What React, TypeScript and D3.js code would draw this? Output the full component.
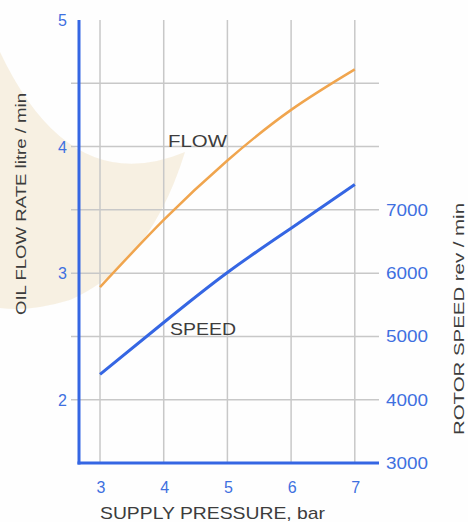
import React from "react";
import * as d3 from "d3";

const pressure = [3, 4, 5, 6, 7];
const flowRate = [2.89, 3.42, 3.89, 4.29, 4.61];
const rotorSpeed = [4400, 5220, 6010, 6710, 7400];
const xTicks = [3, 4, 5, 6, 7];
const leftTicks = [5, 4, 3, 2];
const rightTicks = [7000, 6000, 5000, 4000, 3000];
const gridY = [4.5, 4, 3.5, 3, 2.5, 2];

const W = 468;
const H = 522;

export default function App() {
  const x = d3.scaleLinear().domain([2.67, 7.38]).range([79, 379]);
  const y = d3.scaleLinear().domain([1.5, 5]).range([463, 20]);
  const yR = d3.scaleLinear().domain([3000, 10000]).range([463, 20]);

  const blue = "#3566e3";
  const labelBlue = "#3e70e0";
  const grid = "#c8c8c8";
  const orange = "#f0a54e";
  const text = "#3c3c3c";

  const flowLine = d3
    .line<number>()
    .x((_, i) => x(pressure[i]))
    .y((d) => y(d))
    .curve(d3.curveNatural)(flowRate) as string;

  const speedLine = d3
    .line<number>()
    .x((_, i) => x(pressure[i]))
    .y((d) => yR(d))
    .curve(d3.curveNatural)(rotorSpeed) as string;

  const font = "'Liberation Sans', Arial, sans-serif";

  return (
    <svg
      width={W}
      height={H}
      style={{ position: "absolute", left: 0, top: 0, background: "#fff" }}
      fontFamily={font}
    >
      <rect x={0} y={0} width={W} height={H} fill="#fefefe" />
      <path
        d="M 0 52 Q 70 200 185 152 Q 150 265 70 300 Q 30 312 0 308 Z"
        fill="#f6eddd"
        opacity={0.85}
      />
      {/* grid */}
      {gridY.map((v) => (
        <line key={"gy" + v} x1={71} x2={x(7.38)} y1={y(v)} y2={y(v)} stroke={grid} strokeWidth={1.5} />
      ))}
      {xTicks.map((v) => (
        <line key={"gx" + v} x1={x(v)} x2={x(v)} y1={y(5)} y2={y(1.5)} stroke={grid} strokeWidth={1.5} />
      ))}
      {/* axes */}
      <line x1={x(2.67)} x2={x(2.67)} y1={y(5)} y2={y(1.5) + 1.5} stroke={blue} strokeWidth={3} />
      <line x1={x(2.67) - 1.5} x2={x(7.38)} y1={y(1.5)} y2={y(1.5)} stroke={blue} strokeWidth={3} />
      {/* curves */}
      <path d={flowLine} fill="none" stroke={orange} strokeWidth={2.5} />
      <path d={speedLine} fill="none" stroke={blue} strokeWidth={3} />
      {/* left ticks */}
      {leftTicks.map((v) => (
        <text key={"lt" + v} x={67} y={y(v) + 6} textAnchor="end" fill={labelBlue} fontSize={16}>
          {v}
        </text>
      ))}
      {/* right ticks */}
      {rightTicks.map((v) => (
        <text
          key={"rt" + v}
          x={386}
          y={yR(v) + 6}
          textAnchor="start"
          fill={labelBlue}
          fontSize={16}
          textLength={42}
          lengthAdjust="spacingAndGlyphs"
        >
          {v}
        </text>
      ))}
      {/* x ticks */}
      {xTicks.map((v) => (
        <text key={"xt" + v} x={x(v) + 1} y={493} textAnchor="middle" fill={labelBlue} fontSize={16}>
          {v}
        </text>
      ))}
      {/* series labels */}
      <text x={168} y={147} fill={text} fontSize={17} textLength={59} lengthAdjust="spacingAndGlyphs">
        FLOW
      </text>
      <text x={170} y={335} fill={text} fontSize={17} textLength={66} lengthAdjust="spacingAndGlyphs">
        SPEED
      </text>
      {/* axis titles */}
      <text x={100} y={519} textAnchor="start" fill={text} fontSize={17} textLength={225} lengthAdjust="spacingAndGlyphs">
        SUPPLY PRESSURE, bar
      </text>
      <text
        transform={`translate(26, 315) rotate(-90)`}
        textAnchor="start"
        fill={text}
        fontSize={15}
        textLength={222}
        lengthAdjust="spacingAndGlyphs"
      >
        OIL FLOW RATE litre / min
      </text>
      <text
        transform={`translate(464, 435) rotate(-90)`}
        textAnchor="start"
        fill={text}
        fontSize={15}
        textLength={232}
        lengthAdjust="spacingAndGlyphs"
      >
        ROTOR SPEED rev / min
      </text>
    </svg>
  );
}
